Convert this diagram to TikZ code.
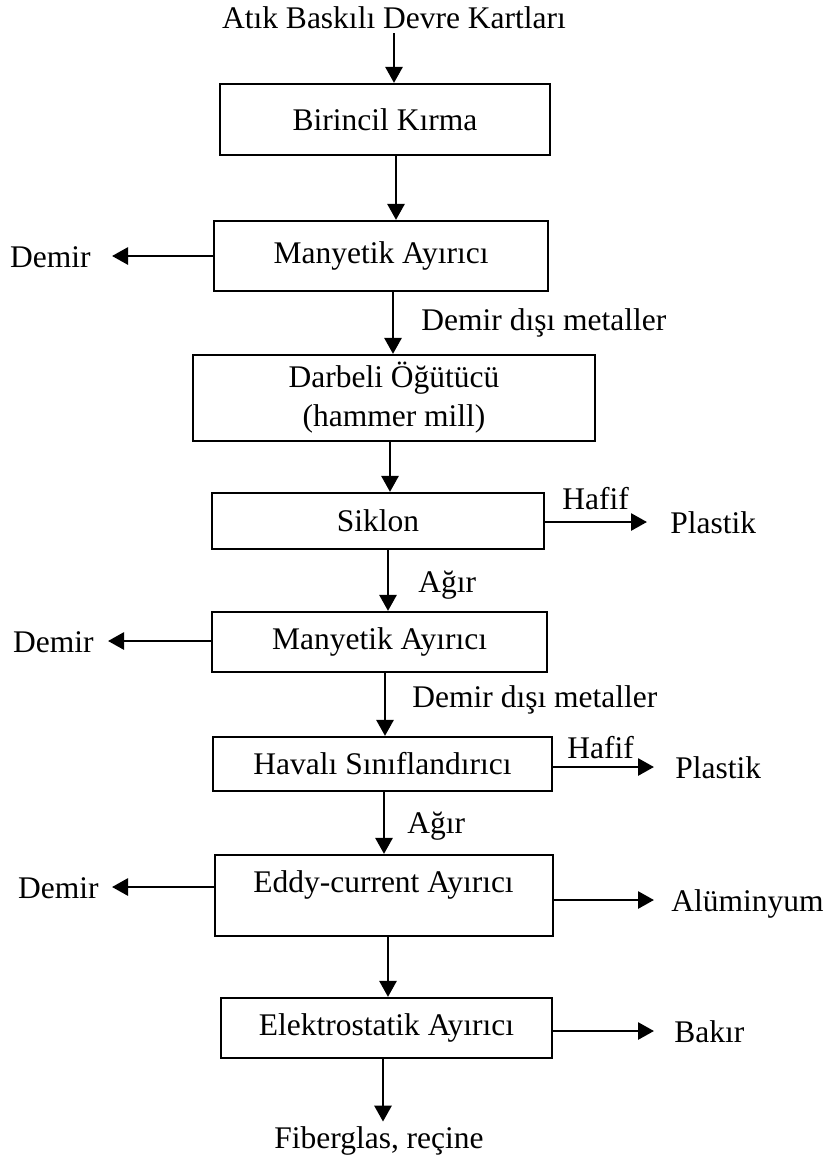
\documentclass[tikz,border=0pt]{standalone}
\usepackage{fontspec}
\setmainfont{Liberation Serif}
\usetikzlibrary{arrows.meta}
\begin{document}
\begin{tikzpicture}[x=0.5pt,y=-0.5pt,
  every node/.style={font=\fontsize{15.75pt}{19.5pt}\selectfont},
  stepbox/.style={draw,line width=1.1pt,rectangle,inner sep=0pt,align=center},
  lbl/.style={inner sep=0pt,text height=11pt,text depth=0pt},
  arr/.style={line width=1.4pt,-{Triangle[length=8pt,width=8.5pt]}}]
\useasboundingbox (0,0) rectangle (830,1157);
% boxes
\node[stepbox,minimum width=165pt,minimum height=35.5pt] (b1) at (385,119.5) {Birincil Kırma};
\node[stepbox,minimum width=167pt,minimum height=35pt] (b2) at (381,256) {Manyetik Ayırıcı};
\node[stepbox,minimum width=201pt,minimum height=43pt] (b3) at (394,398) {Darbeli Öğütücü\\(hammer mill)};
\node[stepbox,minimum width=166pt,minimum height=28pt] (b4) at (378,521) {Siklon};
\node[stepbox,minimum width=167.5pt,minimum height=30pt] (b5) at (379.5,642) {Manyetik Ayırıcı};
\node[stepbox,minimum width=169.5pt,minimum height=27pt] (b6) at (382.5,764) {Havalı Sınıflandırıcı};
\node[stepbox,minimum width=169pt,minimum height=40.5pt] (b7) at (384,895.5) {};
\node[lbl,anchor=base] (t7) at (383.5,892) {Eddy-current Ayırıcı};
\node[stepbox,minimum width=165.5pt,minimum height=30pt] (b8) at (386.5,1028) {Elektrostatik Ayırıcı};
% texts
\node[lbl,anchor=base] (title) at (394,28) {Atık Baskılı Devre Kartları};
\node[lbl,anchor=base] (fib) at (379,1148) {Fiberglas, reçine};
\node[lbl,anchor=east] (d1) at (91,256) {Demir};
\node[lbl,anchor=east] (d2) at (94,641) {Demir};
\node[lbl,anchor=east] (d3) at (99,887) {Demir};
\node[lbl,anchor=west] (p1) at (670,522) {Plastik};
\node[lbl,anchor=west] (p2) at (675,767) {Plastik};
\node[lbl,anchor=west] (alu) at (671,900) {Alüminyum};
\node[lbl,anchor=west] (cu) at (674,1031) {Bakır};
\node[lbl,anchor=base west] (h1) at (562,509) {Hafif};
\node[lbl,anchor=base west] (h2) at (567,758) {Hafif};
\node[lbl,anchor=base west] (a1) at (418,592) {Ağır};
\node[lbl,anchor=base west] (a2) at (407,833) {Ağır};
\node[lbl,anchor=base west] (m1) at (421,330) {Demir dışı metaller};
\node[lbl,anchor=base west] (m2) at (412,707) {Demir dışı metaller};
% arrow x positions
\coordinate (x0) at (394,0);
\coordinate (x1) at (396,0);
\coordinate (x2) at (393,0);
\coordinate (x3) at (390,0);
\coordinate (x4) at (388,0);
\coordinate (x5) at (385,0);
\coordinate (x6) at (384,0);
\coordinate (x7) at (388,0);
\coordinate (x8) at (383,0);
% vertical arrows
\draw[arr,shorten <=2.5pt] (title.south -| x0) -- (b1.north -| x0);
\draw[arr] (b1.south -| x1) -- (b2.north -| x1);
\draw[arr] (b2.south -| x2) -- (b3.north -| x2);
\draw[arr] (b3.south -| x3) -- (b4.north -| x3);
\draw[arr] (b4.south -| x4) -- (b5.north -| x4);
\draw[arr] (b5.south -| x5) -- (b6.north -| x5);
\draw[arr] (b6.south -| x6) -- (b7.north -| x6);
\draw[arr] (b7.south -| x7) -- (b8.north -| x7);
\draw[arr,shorten >=2pt] (b8.south -| x8) -- (fib.north -| x8);
% horizontal arrows
\draw[arr,shorten >=10.5pt] (b2.west |- d1) -- (d1.east);
\draw[arr,shorten >=7pt] (b5.west |- d2) -- (d2.east);
\draw[arr,shorten >=6.5pt] (b7.west |- d3) -- (d3.east);
\draw[arr,shorten >=11.5pt] (b4.east |- p1) -- (p1.west);
\draw[arr,shorten >=10.5pt] (b6.east |- p2) -- (p2.west);
\draw[arr,shorten >=8.5pt] (b7.east |- alu) -- (alu.west);
\draw[arr,shorten >=10pt] (b8.east |- cu) -- (cu.west);
\end{tikzpicture}
\end{document}
